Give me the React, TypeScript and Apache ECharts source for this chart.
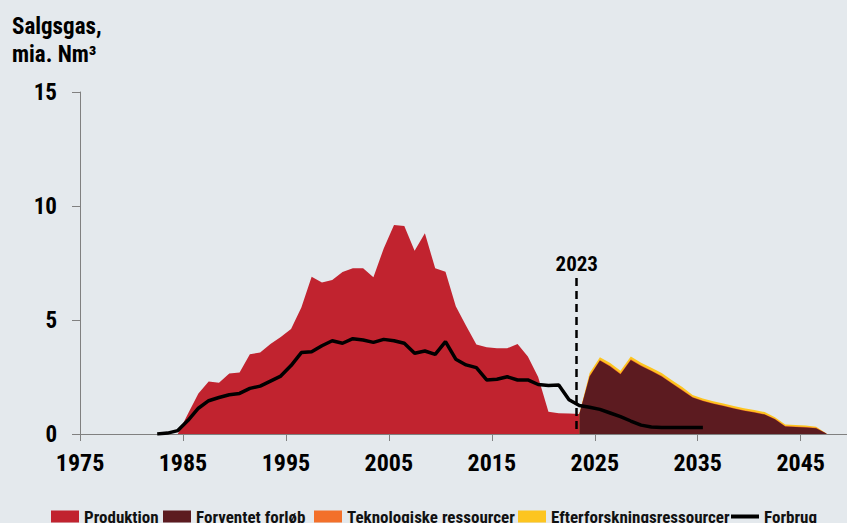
import React, { useEffect, useRef } from "react";
import * as echarts from "echarts";

// ---------- data ----------
const BASE_YEAR = 1975;
const MID_YEAR = 0.5; // annual values are drawn mid-year

const productionYears = [
  1984, 1985, 1986, 1987, 1988, 1989, 1990, 1991, 1992, 1993, 1994, 1995, 1996, 1997,
  1998, 1999, 2000, 2001, 2002, 2003, 2004, 2005, 2006, 2007, 2008, 2009, 2010, 2011,
  2012, 2013, 2014, 2015, 2016, 2017, 2018, 2019, 2020, 2021, 2022, 2023,
];
const productionValues = [
  0.0, 0.9, 1.78, 2.3, 2.25, 2.65, 2.7, 3.5, 3.57, 3.95, 4.25, 4.6, 5.55, 6.9,
  6.65, 6.75, 7.1, 7.27, 7.27, 6.87, 8.14, 9.17, 9.12, 8.04, 8.8, 7.27, 7.12, 5.6,
  4.75, 3.92, 3.8, 3.76, 3.76, 3.95, 3.4, 2.5, 0.98, 0.91, 0.9, 0.88,
];

const futureYears = [
  2023, 2024, 2025, 2026, 2027, 2028, 2029, 2030, 2031, 2032, 2033, 2034, 2035,
  2036, 2037, 2038, 2039, 2040, 2041, 2042, 2043, 2044, 2045, 2046, 2047,
];
const forventetValues = [
  0.88, 2.52, 3.22, 2.96, 2.62, 3.25, 2.98, 2.76, 2.52, 2.21, 1.91, 1.6, 1.45,
  1.33, 1.23, 1.12, 1.02, 0.94, 0.85, 0.65, 0.33, 0.31, 0.29, 0.25, 0.02,
];
const teknologiskeValues = [
  0, 0.03, 0.03, 0.03, 0.03, 0.03, 0.03, 0.03, 0.03, 0.03, 0.03, 0.02, 0.02,
  0.02, 0.02, 0.02, 0.02, 0.02, 0.02, 0.02, 0.02, 0.02, 0.02, 0.02, 0,
];
const efterforskningValues = [
  0, 0.12, 0.12, 0.12, 0.12, 0.12, 0.12, 0.12, 0.12, 0.12, 0.12, 0.09, 0.09,
  0.09, 0.09, 0.09, 0.09, 0.09, 0.09, 0.07, 0.07, 0.06, 0.06, 0.05, 0,
];

const consumptionYears = [
  1982, 1983, 1984, 1985, 1986, 1987, 1988, 1989, 1990, 1991, 1992, 1993, 1994, 1995,
  1996, 1997, 1998, 1999, 2000, 2001, 2002, 2003, 2004, 2005, 2006, 2007, 2008, 2009,
  2010, 2011, 2012, 2013, 2014, 2015, 2016, 2017, 2018, 2019, 2020, 2021, 2022, 2023,
  2024, 2025, 2026, 2027, 2028, 2029, 2030, 2031, 2032, 2033, 2034, 2035,
];
const consumptionValues = [
  0, 0.04, 0.15, 0.6, 1.13, 1.46, 1.6, 1.72, 1.78, 2.0, 2.1, 2.32, 2.54, 3.0,
  3.57, 3.61, 3.87, 4.09, 3.98, 4.18, 4.12, 4.02, 4.15, 4.09, 3.98, 3.54, 3.64, 3.49,
  4.05, 3.28, 3.03, 2.91, 2.37, 2.4, 2.51, 2.37, 2.37, 2.17, 2.13, 2.15, 1.5, 1.25,
  1.17, 1.08, 0.92, 0.76, 0.57, 0.39, 0.31, 0.29, 0.29, 0.29, 0.29, 0.29,
];

const markerYear = 2023;
const markerTop = 6.84;

const seriesNames = [
  "Produktion",
  "Forventet forløb",
  "Teknologiske ressourcer",
  "Efterforskningsressourcer",
  "Forbrug",
];
const titleLines = ["Salgsgas,", "mia. Nm³"];

// ---------- style ----------
const BG = "#e4e9ed";
const FONT = "'Liberation Sans Narrow', 'Arial Narrow', 'Roboto Condensed', sans-serif";
const AXIS = "#808080";
const COLORS = {
  prod: "#c1232f",
  forv: "#5c1b20",
  tek: "#f3702a",
  eft: "#fdc520",
  line: "#000000",
};
const LEGEND_LEFTS = [51, 163, 314, 518, 731];
const LEGEND_ICONS = ["rect", "rect", "rect", "rect", "path://M0,0 L28,0 L28,4 L0,4 Z"];

const toPoints = (years: number[], values: number[]) =>
  years.map((y, i) => [y - BASE_YEAR + MID_YEAR, values[i]]);

// cumulative tops for the layered future areas (drawn back to front)
const forvTop = forventetValues;
const tekTop = forventetValues.map((v, i) => v + teknologiskeValues[i]);
const eftTop = tekTop.map((v, i) => v + efterforskningValues[i]);

const areaSeries = (name: string, color: string, years: number[], values: number[], z = 2) => ({
  name,
  type: "line",
  data: toPoints(years, values),
  symbol: "none",
  showSymbol: false,
  color,
  itemStyle: { color },
  lineStyle: { width: 0, color },
  areaStyle: { color, opacity: 1 },
  z,
  silent: true,
});

export default function App() {
  const ref = useRef<HTMLDivElement>(null);

  useEffect(() => {
    document.body.style.margin = "0";
    document.body.style.background = BG;
    const chart = echarts.init(ref.current!, null, { renderer: "svg" });
    const option: any = {
      animation: false,
      backgroundColor: BG,
      textStyle: { fontFamily: FONT },
      title: {
        text: titleLines.join("\n"),
        left: 12,
        top: 12,
        padding: 0,
        textStyle: {
          fontFamily: FONT,
          fontWeight: "bold",
          fontSize: 23,
          lineHeight: 28,
          color: "#000",
        },
      },
      grid: { left: 80, right: 0, top: 92, bottom: 89, containLabel: false },
      xAxis: {
        type: "value",
        min: 0,
        max: 74.5,
        interval: 10,
        axisLine: { show: true, lineStyle: { color: AXIS, width: 1 } },
        axisTick: { show: true, length: 7, lineStyle: { color: AXIS } },
        splitLine: { show: false },
        axisLabel: {
          margin: 17,
          showMaxLabel: false,
          fontFamily: FONT,
          fontWeight: "bold",
          fontSize: 24,
          color: "#000",
          formatter: (v: number) => (v % 10 === 0 ? String(v + BASE_YEAR) : ""),
        },
      },
      yAxis: {
        type: "value",
        min: 0,
        max: 15,
        interval: 5,
        axisLine: { show: true, lineStyle: { color: AXIS, width: 1 } },
        axisTick: { show: true, length: 8, lineStyle: { color: AXIS } },
        splitLine: { show: false },
        axisLabel: {
          margin: 23,
          fontFamily: FONT,
          fontWeight: "bold",
          fontSize: 23,
          color: "#000",
        },
      },
      legend: seriesNames.map((name, i) => ({
        left: LEGEND_LEFTS[i],
        top: 508,
        padding: 0,
        itemGap: 0,
        itemWidth: 28,
        itemHeight: 12,
        symbolKeepAspect: true,
        textStyle: {
          fontFamily: FONT,
          fontWeight: "bold",
          fontSize: 17,
          color: "#111",
        },
        data: [{ name, icon: LEGEND_ICONS[i] }],
      })),
      series: [
        areaSeries(seriesNames[0], COLORS.prod, productionYears, productionValues, 2),
        areaSeries(seriesNames[3], COLORS.eft, futureYears, eftTop, 2),
        areaSeries(seriesNames[2], COLORS.tek, futureYears, tekTop, 2),
        areaSeries(seriesNames[1], COLORS.forv, futureYears, forvTop, 2),
        {
          name: seriesNames[4],
          type: "line",
          data: toPoints(consumptionYears, consumptionValues),
          symbol: "none",
          showSymbol: false,
          color: COLORS.line,
          itemStyle: { color: COLORS.line },
          lineStyle: { width: 3.5, color: COLORS.line },
          z: 5,
          silent: true,
          markLine: {
            silent: true,
            symbol: ["none", "none"],
            lineStyle: { color: "#000", width: 2.5, type: [8, 5] },
            label: {
              show: true,
              position: "start",
              distance: 4,
              formatter: String(markerYear),
              fontFamily: FONT,
              fontWeight: "bold",
              fontSize: 21,
              color: "#000",
            },
            data: [
              [
                { coord: [markerYear - BASE_YEAR + 0.25, markerTop] },
                { coord: [markerYear - BASE_YEAR + 0.25, 0] },
              ],
            ],
          },
        },
      ],
    };
    chart.setOption(option);
    return () => chart.dispose();
  }, []);

  return <div ref={ref} style={{ width: 847, height: 523 }} />;
}
